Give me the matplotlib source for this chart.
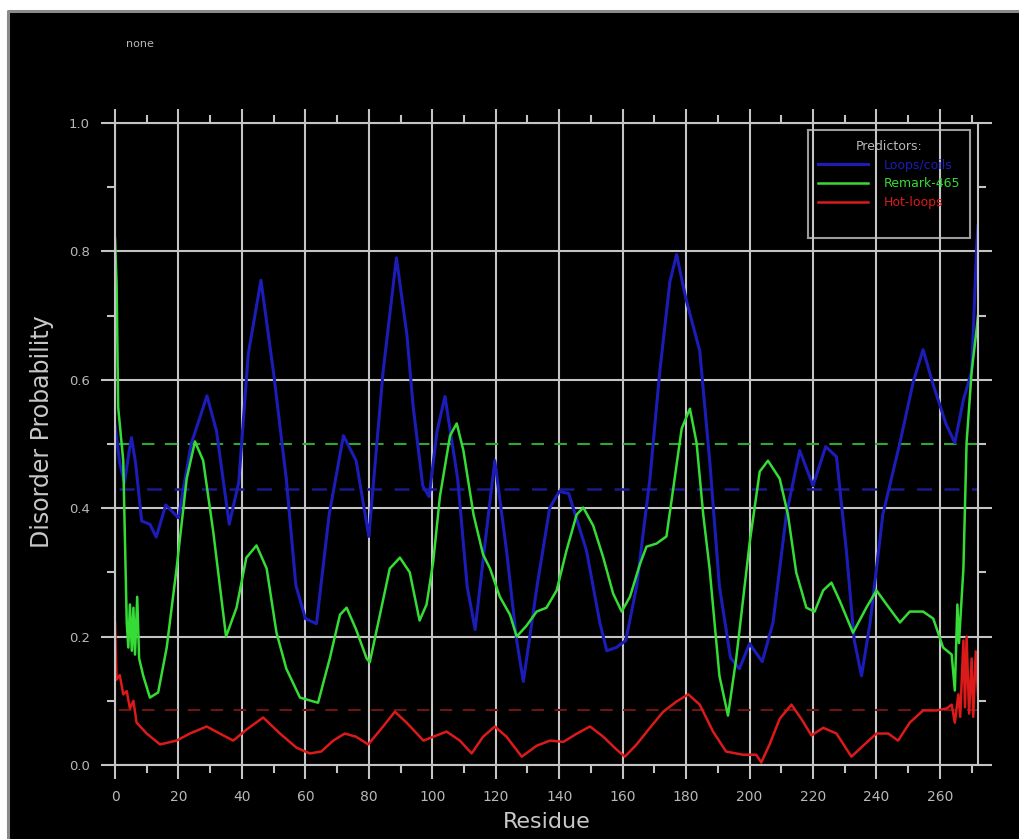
import matplotlib
matplotlib.use('Agg')
from matplotlib import pyplot as plt
from matplotlib.patches import Rectangle
from matplotlib.lines import Line2D
from matplotlib.ticker import MultipleLocator

# Loops/coils (azul)
coils_x = [0, 1.5, 3, 4.5, 5.2, 6.5, 8.4, 11, 13, 16, 20, 24, 29, 32, 36, 39, 42, 46, 50, 54,
           57, 60, 63.5, 67.5, 72, 76, 80, 84.5, 88.7, 92, 94, 97, 99, 101.5, 104, 108, 111,
           113.5, 116.5, 119.7, 123.4, 126.6, 128.7, 133, 137, 140, 143, 148.6, 152.8, 155,
           158, 161, 164.4, 168.6, 171.7, 174.9, 177, 180, 184.3, 187.5, 190.5, 194, 196.8,
           200, 204, 207.4, 211.6, 215.8, 220, 224, 227.4, 230.5, 233, 235.3, 238, 242,
           247.4, 251.6, 254.7, 257.9, 262, 264.7, 267.4, 270, 271.6, 272]
coils_y = [0.53, 0.47, 0.44, 0.49, 0.51, 0.47, 0.38, 0.375, 0.355, 0.405, 0.385, 0.50, 0.575,
           0.52, 0.375, 0.44, 0.64, 0.755, 0.61, 0.445, 0.28, 0.228, 0.22, 0.39, 0.513, 0.474,
           0.356, 0.613, 0.79, 0.67, 0.557, 0.435, 0.418, 0.52, 0.574, 0.446, 0.278, 0.211,
           0.34, 0.474, 0.334, 0.194, 0.13, 0.278, 0.40, 0.426, 0.423, 0.334, 0.222, 0.178,
           0.183, 0.194, 0.278, 0.446, 0.613, 0.753, 0.795, 0.725, 0.645, 0.47, 0.278, 0.167,
           0.15, 0.189, 0.161, 0.222, 0.39, 0.49, 0.435, 0.496, 0.48, 0.334, 0.194, 0.139,
           0.222, 0.39, 0.502, 0.597, 0.647, 0.592, 0.53, 0.502, 0.569, 0.613, 0.81, 0.84]

# Remark-465 (verde)
rem_x = [0, 0.5, 1, 2.6, 3.7, 4.2, 4.7, 5.3, 5.8, 6.3, 7, 7.6, 8.9, 11, 13.6, 16.3, 19.4,
         22.6, 25.2, 27.8, 31, 35, 38.3, 41.4, 44.6, 47.8, 50.9, 54, 58.3, 62.5, 64, 67.7,
         70.9, 73, 76, 79.3, 80.3, 83.5, 86.6, 89.8, 92.9, 96, 98.2, 100.3, 102.4, 105.6,
         107.7, 109.8, 113, 116, 118.2, 121.3, 124.5, 126.6, 129.7, 132.9, 136, 139.2, 142.3,
         145.5, 147.6, 150.7, 153.9, 157, 159.7, 162.3, 165.4, 167.5, 170.7, 173.8, 175.9,
         178.6, 181.2, 183.3, 185.4, 187.4, 190.5, 193.2, 195.8, 200, 203.2, 205.8, 209.5,
         212.1, 214.7, 217.9, 220.5, 223.2, 225.8, 228.4, 232.6, 236.8, 240, 243.2, 247.4,
         250.5, 254.7, 257.9, 261, 263.7, 264.7, 265.5, 266, 267.4, 268.4, 270, 271.6, 272]
rem_y = [0.82, 0.75, 0.557, 0.474, 0.222, 0.183, 0.25, 0.178, 0.245, 0.172, 0.262, 0.166,
         0.139, 0.105, 0.113, 0.183, 0.306, 0.446, 0.504, 0.474, 0.362, 0.2, 0.245, 0.323,
         0.342, 0.306, 0.206, 0.15, 0.105, 0.099, 0.097, 0.166, 0.234, 0.245, 0.211, 0.166,
         0.16, 0.234, 0.306, 0.323, 0.30, 0.225, 0.25, 0.317, 0.418, 0.513, 0.532, 0.49,
         0.39, 0.328, 0.306, 0.262, 0.234, 0.2, 0.217, 0.239, 0.245, 0.272, 0.334, 0.39,
         0.401, 0.373, 0.323, 0.267, 0.239, 0.262, 0.312, 0.34, 0.345, 0.356, 0.429, 0.524,
         0.555, 0.502, 0.39, 0.306, 0.139, 0.077, 0.166, 0.345, 0.457, 0.474, 0.446, 0.39,
         0.30, 0.245, 0.239, 0.272, 0.284, 0.256, 0.206, 0.245, 0.272, 0.25, 0.222, 0.239,
         0.239, 0.228, 0.183, 0.172, 0.116, 0.25, 0.19, 0.306, 0.502, 0.613, 0.68, 0.70]

# Hot-loops (rojo)
hot_x = [0, 0.5, 1.5, 2.6, 3.7, 4.7, 5.8, 6.8, 10, 14.2, 19.4, 23.6, 28.9, 33, 37.3, 41.4,
         46.7, 52, 57.2, 61.4, 65, 68.8, 72.4, 76, 79.8, 84.5, 88.2, 91.9, 94, 97.2, 100.3,
         104.5, 108.7, 112.4, 116, 119.7, 123.4, 128.2, 132.9, 137.1, 141.3, 145.6, 149.7,
         153.9, 158.1, 160.7, 164.4, 168.6, 172.8, 177, 180.7, 184.3, 188.5, 192.6, 197.9,
         202.1, 203.7, 206.3, 209.5, 213.2, 216.3, 219.5, 223.2, 227.4, 232.1, 235.8, 240,
         243.7, 246.8, 250.5, 254.7, 258.9, 262.1, 263.7, 264.7, 265.8, 266.4, 267.4, 267.9,
         268.4, 269.2, 270, 270.5, 271.3, 272]
hot_y = [0.222, 0.133, 0.14, 0.11, 0.115, 0.088, 0.10, 0.066, 0.049, 0.032, 0.038, 0.049,
         0.06, 0.049, 0.038, 0.055, 0.074, 0.049, 0.027, 0.018, 0.021, 0.038, 0.049, 0.044,
         0.032, 0.06, 0.083, 0.066, 0.055, 0.038, 0.044, 0.052, 0.038, 0.018, 0.044, 0.06,
         0.044, 0.013, 0.03, 0.038, 0.036, 0.049, 0.06, 0.044, 0.024, 0.013, 0.032, 0.058,
         0.083, 0.099, 0.11, 0.094, 0.052, 0.021, 0.016, 0.016, 0.004, 0.032, 0.072, 0.094,
         0.072, 0.046, 0.058, 0.049, 0.013, 0.03, 0.049, 0.049, 0.038, 0.066, 0.085, 0.085,
         0.088, 0.094, 0.066, 0.11, 0.075, 0.194, 0.09, 0.2, 0.08, 0.166, 0.075, 0.177, 0.11]

# umbrales
umbrales = {'coils': 0.43, 'rem': 0.5, 'hot': 0.086}
nombres = ['Loops/coils', 'Remark-465', 'Hot-loops']

gris = '#c4c4c4'
azul = '#1c1cb8'
verde = '#36dc36'
rojo = '#dc1a1a'

fig = plt.figure(figsize=(10.19, 8.39), dpi=100, facecolor='white')
# fondo negro con borde gris solo arriba y a la izquierda
fig.patches.append(Rectangle((8 / 1019, 0), 1.0, 1 - 11 / 839,
                             transform=fig.transFigure, facecolor='black',
                             edgecolor='none', zorder=-10))
fig.lines.append(Line2D([8 / 1019, 8 / 1019, 1.0], [0, 1 - 11 / 839, 1 - 11 / 839],
                        transform=fig.transFigure, color='#8a8a8a', lw=2.2))

ax = fig.add_axes([115 / 1019, 74 / 839, 863 / 1019, 642 / 839])
ax.set_facecolor('black')

ax.axhline(umbrales['rem'], xmin=0.005, color='#2fa82f', lw=1.5, ls=(0, (6, 5)))
ax.axhline(umbrales['coils'], xmin=0.005, color='#1a1a90', lw=1.8, ls=(0, (6, 5)))
ax.axhline(umbrales['hot'], xmin=0.005, color='#6e1414', lw=1.5, ls=(0, (6, 5)))

ax.plot(coils_x, coils_y, color=azul, lw=2.2, label=nombres[0])
ax.plot(rem_x, rem_y, color=verde, lw=1.8, label=nombres[1])
ax.plot(hot_x, hot_y, color=rojo, lw=1.8, label=nombres[2])
ax.plot([], [], color='black', lw=1.8, label=' ')

ax.set_xlim(0, 272)
ax.set_ylim(0, 1.0)
ax.xaxis.set_major_locator(MultipleLocator(20))
ax.xaxis.set_minor_locator(MultipleLocator(10))
ax.yaxis.set_major_locator(MultipleLocator(0.2))
ax.yaxis.set_minor_locator(MultipleLocator(0.1))
ax.yaxis.set_major_formatter(plt.FuncFormatter(lambda v, p: '%.1f' % v))
ax.grid(True, which='major', color=gris, lw=1.5)
ax.set_axisbelow(True)
for s in ax.spines.values():
    s.set_color(gris)
    s.set_linewidth(1.5)
ax.tick_params(which='major', direction='out', length=10, width=1.5, color=gris,
               top=True, right=True, labelcolor='#b8b8b8')
ax.tick_params(which='minor', direction='out', length=6, width=1.5, color=gris,
               top=True, right=True)
ax.tick_params(axis='x', labelsize=10, pad=8)
ax.tick_params(axis='y', labelsize=9.5, pad=8)

ax.set_xlabel('Residue', color='#c8c8c8', fontsize=16, labelpad=6)
ax.set_ylabel('Disorder Probability', color='#c8c8c8', fontsize=17, labelpad=8)
ax.yaxis.set_label_coords(-0.071, 0.52)

fig.text(140 / 1019, 1 - 44 / 839, 'none', color='#b8b8b8', fontsize=8,
         ha='center', va='center')

leg = ax.legend(loc='upper right', bbox_to_anchor=(0.9907, 0.989), title='Predictors:',
                fontsize=9, title_fontsize=9, frameon=True, fancybox=False,
                handlelength=4.0, handletextpad=1.2, borderpad=0.8, labelspacing=0.45,
                borderaxespad=0)
leg.get_frame().set_facecolor('none')
leg.get_frame().set_edgecolor(gris)
leg.get_frame().set_linewidth(1.5)
leg.get_title().set_color('#b8b8b8')
for t, c in zip(leg.get_texts(), [azul, verde, rojo, 'black']):
    t.set_color(c)

plt.savefig('out.png', dpi=100, facecolor=fig.get_facecolor())
